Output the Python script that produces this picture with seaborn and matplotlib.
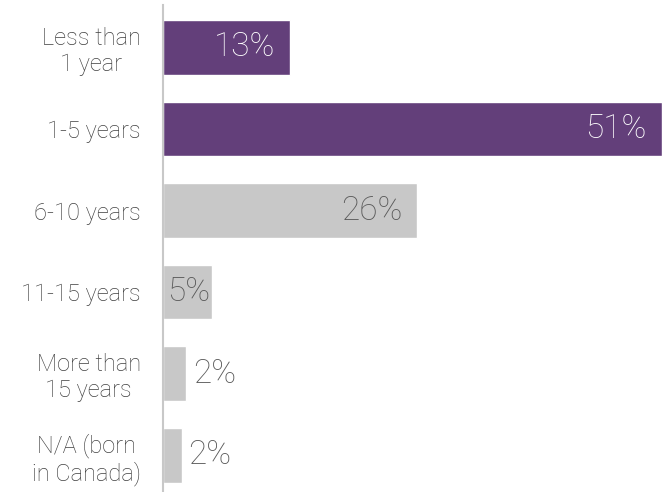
import matplotlib
matplotlib.use("Agg")
import matplotlib.pyplot as plt
import seaborn as sns
import pandas as pd

categories = ["Less than\n1 year", "1-5 years", "6-10 years", "11-15 years",
              "More than\n15 years", "N/A (born\nin Canada)"]
values = [13, 51, 26, 5, 2.4, 1.9]
value_labels = ["13%", "51%", "26%", "5%", "2%", "2%"]

purple = "#633f7a"
gray = "#c8c8c8"
colors = [purple, purple, gray, gray, gray, gray]
label_colors = ["white", "white", "#595959", "#595959", "#595959", "#595959"]

df = pd.DataFrame({"category": categories, "value": values})

sns.set_style("white")
plt.rcParams["font.family"] = ["Roboto", "DejaVu Sans"]
plt.rcParams["font.weight"] = "light"

fig = plt.figure(figsize=(6.62, 4.92), dpi=100)
ax = fig.add_axes([163 / 662, 0.0, (662 - 163) / 662, 1 - 5 / 492])

sns.barplot(data=df, x="value", y="category", hue="category", palette=colors,
            orient="h", width=0.67, legend=False, ax=ax, saturation=1)

ax.set_xlim(0, 51)
ax.set_ylim(5.45, -0.52)
ax.set_xlabel("")
ax.set_ylabel("")
ax.set_xticks([])
for s in ["top", "right", "bottom"]:
    ax.spines[s].set_visible(False)
ax.spines["left"].set_color("#c8c8c8")
ax.spines["left"].set_linewidth(1.5)

ax.tick_params(axis="y", length=0, pad=16, labelsize=17, labelcolor="#404040")
for t in ax.get_yticklabels():
    t.set_multialignment("center")
    t.set_linespacing(1.15)
    t.set_fontweight("light")

for i, (v, lab, c) in enumerate(zip(values, value_labels, label_colors)):
    if v >= 10:
        ax.annotate(lab, xy=(v, i), xytext=(-11, 0), textcoords="offset points",
                    ha="right", va="center", color=c, fontsize=24, fontweight="light")
    elif v >= 4:
        ax.annotate(lab, xy=(0, i), xytext=(3, 0), textcoords="offset points",
                    ha="left", va="center", color=c, fontsize=24, fontweight="light")
    else:
        ax.annotate(lab, xy=(v, i), xytext=(5, 0), textcoords="offset points",
                    ha="left", va="center", color=c, fontsize=24, fontweight="light")

fig.savefig("out.png", dpi=100)
